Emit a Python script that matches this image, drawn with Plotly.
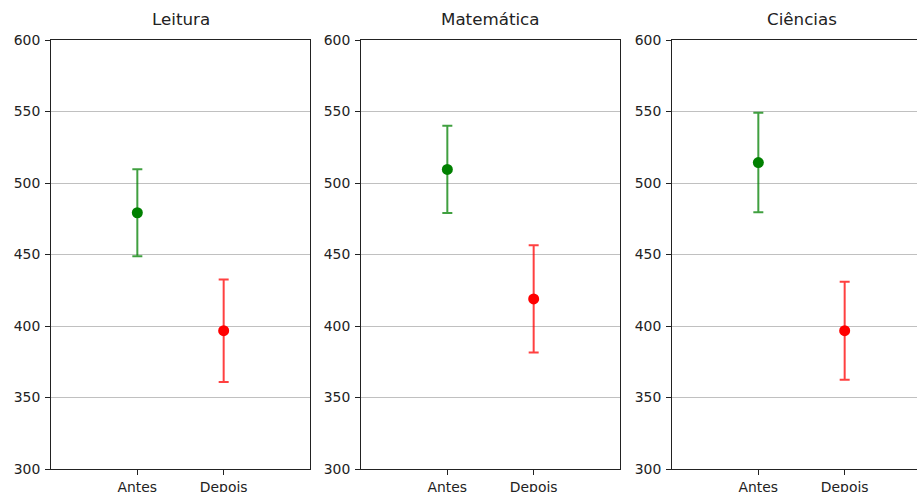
import plotly.graph_objects as go

# Scores before/after, per subject, with error half-widths
subjects = ["Leitura", "Matemática", "Ciências"]
periods = ["Antes", "Depois"]
mean_antes = [479.2, 509.5, 514.3]
err_antes = [30.5, 30.5, 34.8]
mean_depois = [396.7, 418.9, 396.7]
err_depois = [35.9, 37.5, 34.3]
y_ticks = [300, 350, 400, 450, 500, 550, 600]

W, H = 917, 492
# panel boxes in pixels (left, right); the last one runs past the page edge
px_left = [51, 361, 672]
px_width = 259
px_top, px_bottom = 40, 469
x_lo, x_hi = -1.0, 2.0
unit = px_width / (x_hi - x_lo)

fig = go.Figure()
font = "DejaVu Sans"
ydom = [(H - px_bottom) / H, (H - px_top) / H]

for i, subj in enumerate(subjects):
    n = "" if i == 0 else str(i + 1)
    left = px_left[i]
    right = min(left + px_width, W)
    rng_hi = x_lo + (right - left) / unit
    series = [
        (periods[0], mean_antes[i], err_antes[i], "#008000", "rgba(0,128,0,0.75)"),
        (periods[1], mean_depois[i], err_depois[i], "#ff0000", "rgba(255,0,0,0.75)"),
    ]
    for name, m, e, col, ecol in series:
        fig.add_trace(go.Scatter(
            x=[name], y=[m], mode="markers",
            marker=dict(color=col, size=11),
            error_y=dict(type="data", array=[e], color=ecol, thickness=2, width=5),
            xaxis="x" + n, yaxis="y" + n, showlegend=False, cliponaxis=False,
        ))
    full_frame = right == left + px_width
    fig.layout["xaxis" + n] = dict(
        domain=[left / W, right / W], anchor="y" + n, automargin=False,
        type="category", categoryorder="array", categoryarray=periods,
        range=[x_lo, rng_hi], showgrid=False, zeroline=False,
        showline=True, linecolor="#222", linewidth=1, mirror=True,
        ticks="outside", ticklen=5, tickcolor="#222",
        tickfont=dict(family=font, size=13.9, color="#222"),
    )
    fig.layout["yaxis" + n] = dict(
        domain=ydom, anchor="x" + n, range=[300, 600], automargin=False,
        tickvals=y_ticks, showgrid=True, gridcolor="#c0c0c0", gridwidth=1,
        zeroline=False, showline=True, linecolor="#222", linewidth=1,
        mirror=full_frame, ticks="outside", ticklen=5, tickcolor="#222",
        ticklabelstandoff=2,
        tickfont=dict(family=font, size=13.9, color="#222"),
    )
    fig.add_annotation(
        text=subj, xref="paper", yref="paper",
        x=(left + px_width / 2) / W, y=(H - 31) / H,
        xanchor="center", yanchor="bottom", showarrow=False,
        font=dict(family=font, size=16.7, color="#222"),
    )

fig.update_layout(
    width=W, height=H, margin=dict(l=0, r=0, t=0, b=0, autoexpand=False),
    paper_bgcolor="white", plot_bgcolor="white",
)
fig.write_html("out.html")
